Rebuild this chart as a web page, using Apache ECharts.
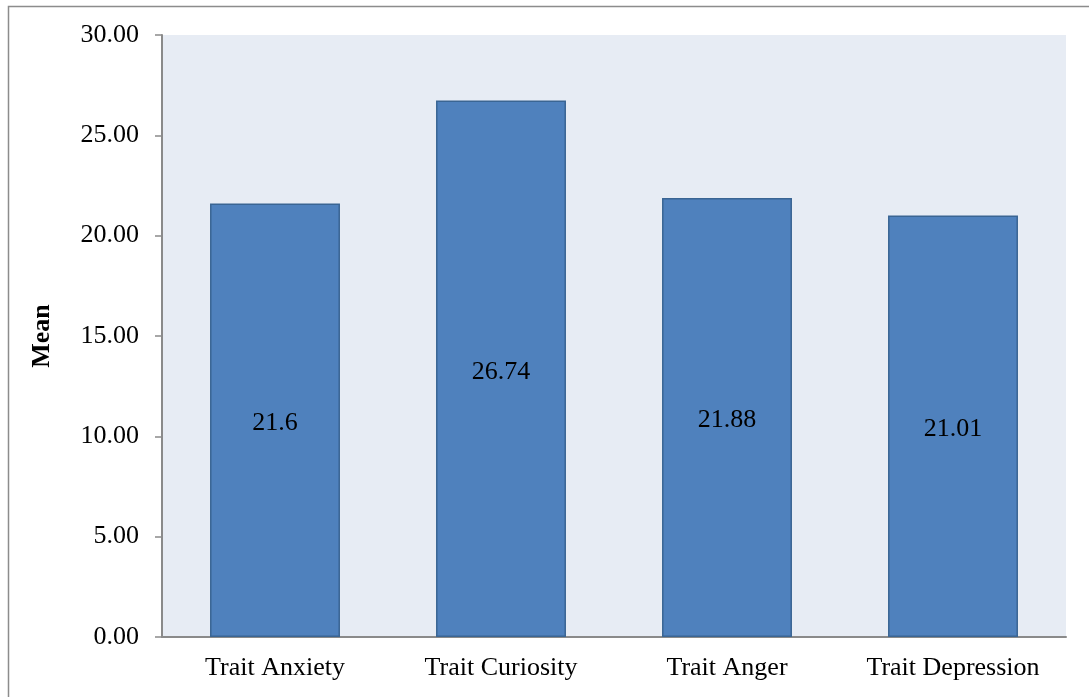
<!DOCTYPE html>
<html>
<head>
<meta charset="utf-8">
<script src="https://cdn.jsdelivr.net/npm/echarts@6/dist/echarts.min.js"></script>
<style>
  html, body { margin: 0; padding: 0; background: #fff; }
  #chart { width: 1089px; height: 697px; }
</style>
</head>
<body>
<div id="chart"></div>
<script>
const categories = ["Trait Anxiety", "Trait Curiosity", "Trait Anger", "Trait Depression"];
const means = [21.6, 26.74, 21.88, 21.01];
const yTicks = ["0.00", "5.00", "10.00", "15.00", "20.00", "25.00", "30.00"];

const font = "Liberation Serif, Times New Roman, serif";
let myChart = echarts.init(document.getElementById("chart"));
let option = {
  animation: false,
  textStyle: { fontFamily: font },
  graphic: [
    {
      type: "rect",
      left: 6,
      top: 4,
      shape: { width: 1200, height: 800 },
      style: { fill: "none", stroke: "#8c8c8c", lineWidth: 1.5 },
      silent: true,
    },
  ],
  grid: {
    left: 162,
    right: 23,
    top: 35,
    bottom: 60,
    show: true,
    backgroundColor: "#e7ecf4",
    borderWidth: 0,
  },
  xAxis: {
    type: "category",
    data: categories,
    axisLine: { lineStyle: { color: "#8a8a8a", width: 2 } },
    axisTick: { show: false },
    axisLabel: { color: "#000", fontSize: 26, fontFamily: font, margin: 18 },
  },
  yAxis: {
    type: "value",
    min: 0,
    max: 30,
    interval: 5,
    name: "Mean",
    nameLocation: "middle",
    nameGap: 107,
    nameTextStyle: { color: "#000", fontSize: 26, fontWeight: "bold", fontFamily: font },
    axisLine: { show: true, lineStyle: { color: "#8a8a8a", width: 2 } },
    axisTick: { show: true, length: 7, lineStyle: { color: "#8a8a8a", width: 1.5 } },
    splitLine: { show: false },
    axisLabel: {
      color: "#000",
      fontSize: 26,
      fontFamily: font,
      margin: 23,
      formatter: (v) => yTicks[Math.round(v / 5)],
    },
  },
  series: [
    {
      type: "bar",
      data: means,
      barWidth: "57.5%",
      itemStyle: { color: "#4f81bd", borderColor: "#3a6593", borderWidth: 1.5 },
      label: {
        show: true,
        position: "inside",
        offset: [0, 3],
        color: "#000",
        fontSize: 26,
        fontFamily: font,
      },
    },
  ],
};
myChart.setOption(option);
</script>
</body>
</html>
